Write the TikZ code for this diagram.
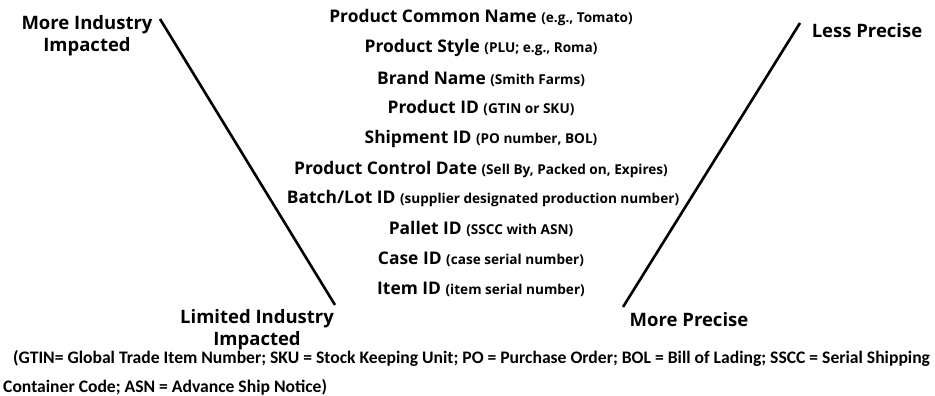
\documentclass[tikz,border=0pt]{standalone}
\usepackage{fontspec}
\setmainfont{Open Sans}
\newfontfamily\notefont{Carlito}
\begin{document}
\begin{tikzpicture}[x=1pt,y=-1pt,
  row/.style={font=\bfseries\fontsize{17.4}{20}\selectfont, inner sep=0pt, anchor=center},
  side/.style={font=\bfseries\fontsize{18.5}{22}\selectfont, inner sep=0pt, align=center},
  vline/.style={line width=2.6pt, black}]
\newcommand{\paren}[1]{{\fontsize{13.6}{15}\selectfont #1}}
\useasboundingbox (0,0) rectangle (935,396);
\node[row] (r1) at (481,18) {Product Common Name \paren{(e.g., Tomato)}};
\node[row] (r2) at (481,48) {Product Style \paren{(PLU; e.g., Roma)}};
\node[row] (r3) at (481,79) {Brand Name \paren{(Smith Farms)}};
\node[row] (r4) at (481,108) {Product ID \paren{(GTIN or SKU)}};
\node[row] (r5) at (481,139) {Shipment ID \paren{(PO number, BOL)}};
\node[row] (r6) at (481,170) {Product Control Date \paren{(Sell By, Packed on, Expires)}};
\node[row] (r7) at (483,199) {Batch/Lot ID \paren{(supplier designated production number)}};
\node[row] (r8) at (481,229) {Pallet ID \paren{(SSCC with ASN)}};
\node[row] (r9) at (481,259) {Case ID \paren{(case serial number)}};
\node[row] (r10) at (481,289) {Item ID \paren{(item serial number)}};
\node[side] (mi) at (87,36) {More Industry\\Impacted};
\node[side] (lp) at (867,31) {Less Precise};
\node[side] (li) at (257,330) {Limited Industry\\Impacted};
\node[side] (mp) at (689,320) {More Precise};
\coordinate (l1) at (160,19);
\coordinate (l2) at (335,305);
\coordinate (q1) at (800,23);
\coordinate (q2) at (623,307);
\draw[vline] (l1) -- (l2);
\draw[vline] (q1) -- (q2);
\node[font=\notefont\bfseries\fontsize{17.6}{29}\selectfont, anchor=west, align=left, inner sep=0pt] (note) at (3,373)
 {\hspace*{10pt}(GTIN= Global Trade Item Number; SKU = Stock Keeping Unit; PO = Purchase Order; BOL = Bill of Lading; SSCC = Serial Shipping\\Container Code; ASN = Advance Ship Notice)};
\end{tikzpicture}
\end{document}
